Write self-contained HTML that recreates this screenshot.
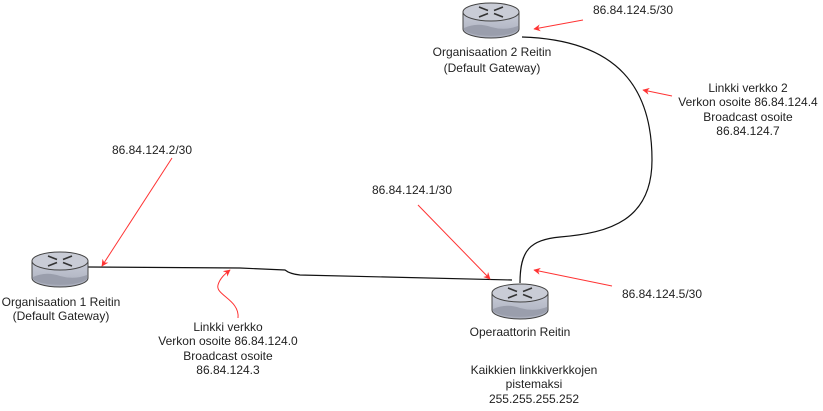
<!DOCTYPE html>
<html><head><meta charset="utf-8"><style>
html,body{margin:0;padding:0;background:#fff;}
svg{display:block;}
text{font-family:"Liberation Sans",Arial,sans-serif;font-size:12px;fill:#222;}
</style></head><body>
<svg width="823" height="411" viewBox="0 0 823 411" xmlns="http://www.w3.org/2000/svg">
<defs>
<linearGradient id="g" x1="0" y1="0" x2="0" y2="1">
<stop offset="0" stop-color="#c8ccd8"/><stop offset="1" stop-color="#a9adbb"/>
</linearGradient>
<marker id="a" viewBox="0 0 10 10" refX="9" refY="5" markerWidth="7" markerHeight="7" orient="auto-start-reverse">
<path d="M0,0 L10,5 L0,10 L3,5 z" fill="#ff3333"/>
</marker>
<g id="r">
<path d="M0,10 L0,27 A28,9 0 0 0 56,27 L56,10 Z" fill="url(#g)" stroke="#444" stroke-width="1"/>
<path d="M1,26 Q14,20 28,25 Q42,29 55,24 L55,28 A28,8 0 0 1 1,28 Z" fill="#9a9eac"/>
<ellipse cx="28" cy="10" rx="28" ry="9" fill="#c9ccd6" stroke="#444" stroke-width="1"/>
<path d="M16,5 L25,8.5 M16,15 L25,11.5 M40,5 L31,8.5 M40,15 L31,11.5" stroke="#333" stroke-width="1.6"/>
</g>
</defs>

<path d="M88,267 L240,268 L285,270 Q290,274 300,275 L512,280" fill="none" stroke="#111" stroke-width="1.2"/>
<path d="M520,283 C520,250 530,240 560,237 C610,233 652,220 652,160 C652,90 620,40 522,37" fill="none" stroke="#111" stroke-width="1.2"/>

<use href="#r" x="32" y="251"/>
<use href="#r" x="463" y="2"/>
<use href="#r" x="492" y="283"/>

<g stroke="#ff3333" stroke-width="1" fill="none">
<path d="M172,158 L102,266" marker-end="url(#a)"/>
<path d="M238,318 C240,300 215,295 218,285 C220,278 225,274 230,270" marker-end="url(#a)"/>
<path d="M418,205 L490,279" marker-end="url(#a)"/>
<path d="M612,286 L534,270" marker-end="url(#a)"/>
<path d="M583,20 L534,29" marker-end="url(#a)"/>
<path d="M672,96 L643,90" marker-end="url(#a)"/>
</g>

<text x="152" y="154" text-anchor="middle">86.84.124.2/30</text>
<text x="412" y="194" text-anchor="middle">86.84.124.1/30</text>
<text x="662" y="298" text-anchor="middle">86.84.124.5/30</text>
<text x="633" y="14" text-anchor="middle">86.84.124.5/30</text>

<text text-anchor="middle"><tspan x="492" y="56">Organisaation 2 Reitin</tspan><tspan x="492" y="72">(Default Gateway)</tspan></text>
<text text-anchor="middle"><tspan x="61" y="306">Organisaation 1 Reitin</tspan><tspan x="61" y="320">(Default Gateway)</tspan></text>
<text x="520" y="336" text-anchor="middle">Operaattorin Reitin</text>

<text text-anchor="middle"><tspan x="748" y="92">Linkki verkko 2</tspan><tspan x="748" y="106">Verkon osoite 86.84.124.4</tspan><tspan x="748" y="121">Broadcast osoite</tspan><tspan x="748" y="135">86.84.124.7</tspan></text>
<text text-anchor="middle"><tspan x="228" y="331">Linkki verkko</tspan><tspan x="228" y="345">Verkon osoite 86.84.124.0</tspan><tspan x="228" y="360">Broadcast osoite</tspan><tspan x="228" y="374">86.84.124.3</tspan></text>
<text text-anchor="middle"><tspan x="534" y="374">Kaikkien linkkiverkkojen</tspan><tspan x="534" y="388">pistemaksi</tspan><tspan x="534" y="403">255.255.255.252</tspan></text>
</svg>
</body></html>
